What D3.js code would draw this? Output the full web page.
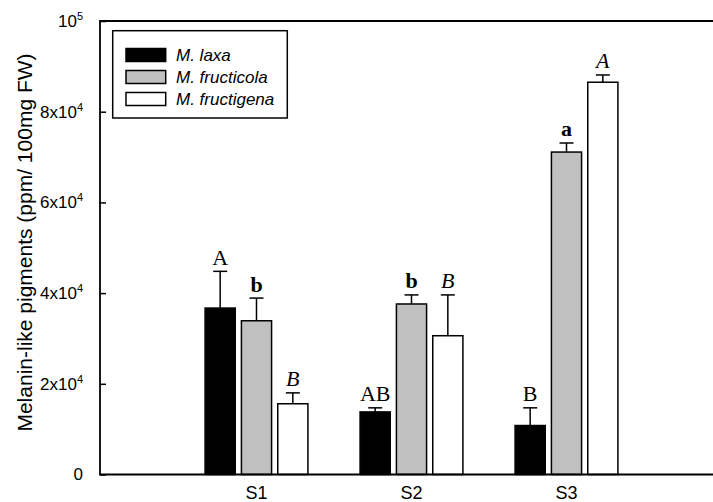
<!DOCTYPE html>
<html>
<head>
<meta charset="utf-8">
<script src="https://cdn.jsdelivr.net/npm/d3@7"></script>
<style>
  body { margin: 0; background: #fff; }
  svg { display: block; }
</style>
</head>
<body>
<svg id="chart" width="713" height="502"></svg>
<script>
// sites on the x axis
const categories = ["S1", "S2", "S3"];
const seriesNames = ["M. laxa", "M. fructicola", "M. fructigena"];

// means and upper error (ppm / 100mg FW)
const laxa = [36700, 13800, 10800];
const laxaErr = [8100, 900, 3900];
const fructicola = [33900, 37600, 71100];
const fructicolaErr = [5000, 2000, 2000];
const fructigena = [15600, 30600, 86500];
const fructigenaErr = [2400, 9000, 1600];

// significance letters
const laxaLetters = ["A", "AB", "B"];
const fructicolaLetters = ["b", "b", "a"];
const fructigenaLetters = ["B", "B", "A"];

const yTicks = [0, 20000, 40000, 60000, 80000, 100000];

const svg = d3.select("#chart");
const plotLeft = 100, plotTop = 21, plotBottom = 474.5, plotRight = 722;

const fills = ["#000000", "#c0c0c0", "#ffffff"];
const letterStyle = [
    { weight: "normal", style: "normal" },
    { weight: "bold", style: "normal" },
    { weight: "normal", style: "italic" }
];

const series = [
    { vals: laxa, err: laxaErr, letters: laxaLetters },
    { vals: fructicola, err: fructicolaErr, letters: fructicolaLetters },
    { vals: fructigena, err: fructigenaErr, letters: fructigenaLetters }
];

const x = d3.scaleBand().domain(categories).range([179, 644]);
const xInner = d3.scaleBand().domain(d3.range(seriesNames.length))
    .range([-54.5, 54.5]).paddingInner(0.17).paddingOuter(0.085);
const y = d3.scaleLinear().domain([0, 100000]).range([plotBottom, plotTop]);

// bars, error bars and letters
series.forEach((s, k) => {
    const g = svg.append("g");
    categories.forEach((c, i) => {
        const cx = x(c) + x.bandwidth() / 2;
        const bx = cx + xInner(k);
        const bw = xInner.bandwidth();
        const mid = bx + bw / 2;
        const yTop = y(s.vals[i]);
        const yErr = y(s.vals[i] + s.err[i]);

        g.append("line")
            .attr("x1", mid).attr("x2", mid)
            .attr("y1", yTop).attr("y2", yErr)
            .attr("stroke", "#000").attr("stroke-width", 1.5);
        g.append("line")
            .attr("x1", mid - 7).attr("x2", mid + 7)
            .attr("y1", yErr).attr("y2", yErr)
            .attr("stroke", "#000").attr("stroke-width", 1.5);

        g.append("rect")
            .attr("x", bx).attr("y", yTop)
            .attr("width", bw).attr("height", plotBottom - yTop)
            .attr("fill", fills[k]).attr("stroke", "#000").attr("stroke-width", 1.5);

        g.append("text")
            .attr("x", mid).attr("y", yErr - 6.5)
            .attr("text-anchor", "middle")
            .attr("font-family", "'Liberation Serif', 'DejaVu Serif', serif")
            .attr("font-size", 22)
            .attr("font-weight", letterStyle[k].weight)
            .attr("font-style", letterStyle[k].style)
            .attr("fill", "#000")
            .text(s.letters[i]);
    });
});

// frame (right side falls outside the picture)
svg.append("path")
    .attr("d", `M${plotRight},${plotTop}H${plotLeft}V${plotBottom}H${plotRight}`)
    .attr("fill", "none").attr("stroke", "#000").attr("stroke-width", 1.8);

// y axis with inward ticks
const yAxis = svg.append("g")
    .attr("transform", `translate(${plotLeft},0)`)
    .call(d3.axisLeft(y).tickValues(yTicks).tickSize(-6).tickPadding(17));
yAxis.select(".domain").remove();
yAxis.selectAll("line").attr("stroke", "#000").attr("stroke-width", 1.5);
yAxis.selectAll("text")
    .attr("font-family", "'Liberation Sans', Arial, sans-serif")
    .attr("font-size", 17)
    .attr("fill", "#000")
    .each(function(d) {
        const t = d3.select(this).text("");
        if (d === 0) { t.text("0"); return; }
        const e = Math.floor(Math.log10(d));
        const m = d / Math.pow(10, e);
        t.append("tspan").text(m === 1 ? "10" : m + "x10");
        t.append("tspan").attr("dy", -7).attr("font-size", 11).text(e);
    });

// x labels
svg.append("g").selectAll("text")
    .data(categories)
    .join("text")
    .attr("x", d => x(d) + x.bandwidth() / 2)
    .attr("y", 499)
    .attr("text-anchor", "middle")
    .attr("font-family", "'Liberation Sans', Arial, sans-serif")
    .attr("font-size", 18)
    .text(d => d);

// y title
svg.append("text")
    .attr("transform", "translate(32,242.5) rotate(-90)")
    .attr("text-anchor", "middle")
    .attr("font-family", "'Liberation Sans', Arial, sans-serif")
    .attr("font-size", 21)
    .text("Melanin-like pigments (ppm/ 100mg FW)");

// legend
const legend = svg.append("g");
legend.append("rect")
    .attr("x", 112.7).attr("y", 30.7).attr("width", 174.6).attr("height", 87.3)
    .attr("fill", "#fff").attr("stroke", "#000").attr("stroke-width", 1.5);
seriesNames.forEach((n, k) => {
    const ry = 48.5 + k * 22;
    legend.append("rect")
        .attr("x", 126).attr("y", ry).attr("width", 39.7).attr("height", 13)
        .attr("fill", fills[k]).attr("stroke", "#000").attr("stroke-width", 1.5);
    legend.append("text")
        .attr("x", 176).attr("y", ry + 12.5)
        .attr("font-family", "'Liberation Sans', Arial, sans-serif")
        .attr("font-size", 17)
        .attr("font-style", "italic")
        .text(n);
});
</script>
</body>
</html>
